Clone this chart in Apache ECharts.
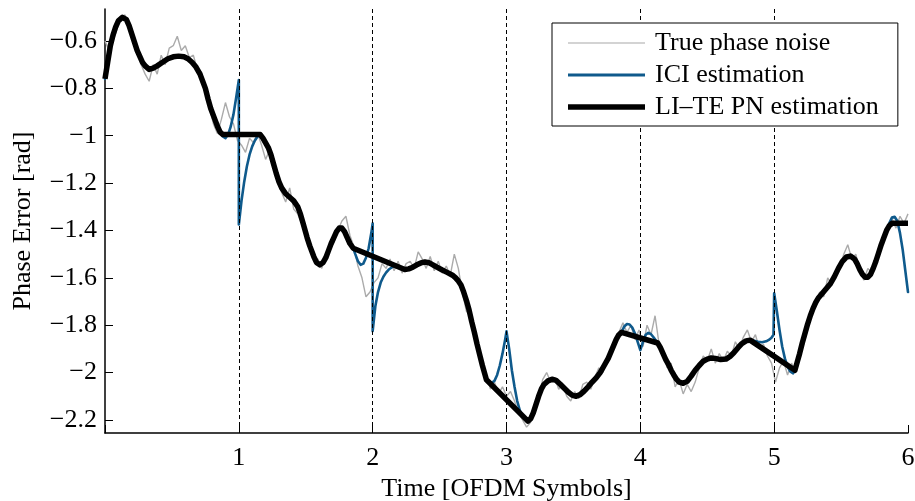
<!DOCTYPE html>
<html><head><meta charset="utf-8">
<script src="https://cdn.jsdelivr.net/npm/echarts@6/dist/echarts.min.js"></script>
<style>html,body{margin:0;padding:0;background:#fff}#c{width:915px;height:501px}</style>
</head><body><div id="c"></div>
<script>
// ---- data ----
const xTicks = [0, 1, 2, 3, 4, 5, 6];
const yTicks = [-2.2, -2.0, -1.8, -1.6, -1.4, -1.2, -1.0, -0.8, -0.6];
const symbolBoundaries = [1, 2, 3, 4, 5];
const seriesNames = ['True phase noise', 'ICI estimation', 'LI\u2013TE PN estimation'];

// true phase noise, sampled every 0.03 OFDM symbols from t = 0
const trueStep = 0.03;
const truePhaseNoise = [
 -0.60,-0.64,-0.60,-0.55,-0.50,-0.49,-0.55,-0.57,-0.62,-0.70,
 -0.74,-0.77,-0.70,-0.74,-0.66,-0.70,-0.63,-0.62,-0.58,-0.64,
 -0.62,-0.67,-0.66,-0.72,-0.73,-0.81,-0.88,-0.95,-0.99,-0.93,
 -0.86,-0.92,-0.95,-1.02,-1.04,-1.07,-1.01,-1.03,-0.99,-1.04,
 -1.10,-1.06,-1.13,-1.19,-1.24,-1.28,-1.22,-1.31,-1.33,-1.37,
 -1.42,-1.48,-1.52,-1.52,-1.56,-1.50,-1.48,-1.45,-1.40,-1.36,
 -1.34,-1.42,-1.47,-1.55,-1.60,-1.68,-1.66,-1.62,-1.60,-1.54,
 -1.56,-1.52,-1.57,-1.53,-1.58,-1.54,-1.53,-1.56,-1.49,-1.52,
 -1.56,-1.51,-1.57,-1.53,-1.58,-1.55,-1.59,-1.50,-1.56,-1.66,
 -1.74,-1.76,-1.82,-1.88,-1.96,-2.01,-2.07,-2.04,-2.09,-2.06,
 -2.10,-2.08,-2.12,-2.17,-2.20,-2.23,-2.21,-2.14,-2.12,-2.03,
 -2.00,-2.04,-2.02,-2.07,-2.05,-2.10,-2.12,-2.08,-2.11,-2.05,
 -2.04,-2.07,-2.02,-1.98,-2.00,-1.94,-1.90,-1.86,-1.83,-1.79,
 -1.83,-1.80,-1.86,-1.82,-1.89,-1.80,-1.84,-1.76,-1.88,-1.91,
 -1.98,-1.96,-2.06,-2.03,-2.09,-2.05,-2.08,-2.04,-1.98,-1.93,
 -1.95,-1.90,-1.96,-1.92,-1.95,-1.91,-1.93,-1.87,-1.90,-1.85,
 -1.82,-1.87,-1.84,-1.90,-1.88,-1.93,-1.96,-2.04,-1.98,-1.95,
 -2.01,-1.96,-2.00,-1.94,-1.88,-1.82,-1.73,-1.71,-1.66,-1.68,
 -1.60,-1.63,-1.57,-1.56,-1.50,-1.46,-1.52,-1.50,-1.57,-1.61,
 -1.56,-1.58,-1.52,-1.50,-1.42,-1.40,-1.35,-1.39,-1.34,-1.37,
 -1.33
];

// LI-TE PN estimation: [time, phase]
const liteEstimate = [
 [0.00,-0.76],[0.02,-0.69],[0.04,-0.62],[0.06,-0.575],[0.08,-0.54],[0.10,-0.515],[0.13,-0.50],
 [0.16,-0.51],[0.18,-0.535],[0.20,-0.57],[0.22,-0.605],[0.24,-0.64],[0.26,-0.665],[0.28,-0.69],
 [0.30,-0.705],[0.33,-0.72],[0.36,-0.715],[0.39,-0.705],[0.43,-0.69],[0.47,-0.675],[0.51,-0.667],
 [0.55,-0.664],[0.59,-0.667],[0.62,-0.675],[0.65,-0.69],[0.68,-0.71],[0.71,-0.74],[0.73,-0.77],
 [0.75,-0.80],[0.77,-0.845],[0.79,-0.885],[0.82,-0.93],[0.84,-0.96],[0.86,-0.985],[0.88,-0.995],
 [1.16,-0.995],[1.18,-1.01],[1.20,-1.03],[1.22,-1.05],[1.24,-1.08],[1.26,-1.12],[1.28,-1.16],
 [1.30,-1.195],[1.32,-1.22],[1.35,-1.245],[1.38,-1.26],[1.41,-1.275],[1.44,-1.30],[1.46,-1.33],
 [1.48,-1.37],[1.51,-1.43],[1.53,-1.465],[1.56,-1.51],[1.58,-1.535],[1.605,-1.545],[1.63,-1.535],
 [1.65,-1.515],[1.67,-1.485],[1.69,-1.455],[1.71,-1.43],[1.73,-1.405],[1.75,-1.39],[1.77,-1.39],
 [1.79,-1.405],[1.81,-1.43],[1.83,-1.455],[1.855,-1.475],
 [2.24,-1.565],[2.27,-1.562],[2.30,-1.555],[2.33,-1.545],[2.36,-1.537],[2.39,-1.533],[2.42,-1.536],
 [2.45,-1.545],[2.48,-1.555],[2.52,-1.567],[2.56,-1.578],[2.60,-1.59],[2.62,-1.60],[2.64,-1.613],
 [2.66,-1.63],[2.68,-1.66],[2.70,-1.695],[2.72,-1.735],[2.74,-1.785],[2.76,-1.83],[2.78,-1.88],
 [2.80,-1.925],[2.82,-1.97],[2.84,-2.01],[2.85,-2.03],
 [3.16,-2.205],[3.18,-2.195],[3.20,-2.17],[3.22,-2.135],[3.24,-2.10],[3.26,-2.07],[3.28,-2.05],
 [3.31,-2.035],[3.34,-2.028],[3.37,-2.033],[3.40,-2.048],[3.43,-2.065],[3.46,-2.082],[3.49,-2.095],
 [3.52,-2.10],[3.55,-2.093],[3.58,-2.078],[3.61,-2.06],[3.64,-2.04],[3.67,-2.022],[3.70,-2.00],
 [3.73,-1.97],[3.76,-1.94],[3.79,-1.90],[3.82,-1.86],[3.84,-1.84],[3.86,-1.83],
 [4.13,-1.875],[4.15,-1.895],[4.17,-1.92],[4.19,-1.945],[4.21,-1.965],[4.23,-1.99],[4.25,-2.01],
 [4.27,-2.028],[4.29,-2.04],[4.32,-2.045],[4.35,-2.037],[4.38,-2.015],[4.41,-1.99],[4.44,-1.97],
 [4.47,-1.952],[4.50,-1.943],[4.53,-1.938],[4.56,-1.94],[4.60,-1.945],[4.64,-1.943],[4.67,-1.932],
 [4.70,-1.915],[4.73,-1.895],[4.76,-1.877],[4.79,-1.866],[4.82,-1.863],
 [5.155,-1.99],[5.17,-1.96],[5.19,-1.92],[5.21,-1.875],[5.23,-1.835],[5.25,-1.795],[5.27,-1.76],
 [5.29,-1.73],[5.31,-1.705],[5.33,-1.685],[5.36,-1.665],[5.39,-1.645],[5.42,-1.625],[5.45,-1.595],
 [5.48,-1.56],[5.51,-1.53],[5.54,-1.512],[5.57,-1.508],[5.60,-1.52],[5.62,-1.54],[5.64,-1.565],
 [5.66,-1.585],[5.68,-1.597],[5.70,-1.597],[5.72,-1.585],[5.74,-1.56],[5.76,-1.53],[5.78,-1.495],
 [5.80,-1.46],[5.82,-1.43],[5.84,-1.40],[5.86,-1.38],[5.88,-1.37],[6.00,-1.37]
];

// ICI estimation: [time, phase]
const iciEstimate = [
 [0.00,-0.76],[0.02,-0.69],[0.04,-0.62],[0.06,-0.575],[0.08,-0.54],[0.10,-0.515],[0.13,-0.50],
 [0.16,-0.51],[0.18,-0.535],[0.20,-0.57],[0.22,-0.605],[0.24,-0.64],[0.26,-0.665],[0.28,-0.69],
 [0.30,-0.705],[0.33,-0.72],[0.36,-0.715],[0.39,-0.705],[0.43,-0.69],[0.47,-0.675],[0.51,-0.667],
 [0.55,-0.664],[0.59,-0.667],[0.62,-0.675],[0.65,-0.69],[0.68,-0.71],[0.71,-0.74],[0.73,-0.77],
 [0.75,-0.80],[0.77,-0.845],[0.79,-0.885],[0.82,-0.93],[0.84,-0.96],[0.86,-0.985],
 [0.88,-1.003],[0.90,-1.01],[0.92,-0.995],[0.94,-0.96],[0.96,-0.91],[0.98,-0.84],[1.00,-0.765],
 [1.00,-1.375],[1.02,-1.275],[1.04,-1.195],[1.06,-1.13],[1.08,-1.08],[1.10,-1.045],[1.12,-1.02],
 [1.14,-1.003],[1.16,-0.995],
 [1.18,-1.01],[1.20,-1.03],[1.22,-1.05],[1.24,-1.08],[1.26,-1.12],[1.28,-1.16],
 [1.30,-1.195],[1.32,-1.22],[1.35,-1.245],[1.38,-1.26],[1.41,-1.275],[1.44,-1.30],[1.46,-1.33],
 [1.48,-1.37],[1.51,-1.43],[1.53,-1.465],[1.56,-1.51],[1.58,-1.535],[1.605,-1.545],[1.63,-1.535],
 [1.65,-1.515],[1.67,-1.485],[1.69,-1.455],[1.71,-1.43],[1.73,-1.405],[1.75,-1.39],[1.77,-1.39],
 [1.79,-1.405],[1.81,-1.43],[1.83,-1.455],[1.855,-1.475],
 [1.87,-1.50],[1.89,-1.53],[1.91,-1.545],[1.93,-1.54],[1.95,-1.515],[1.97,-1.475],[1.99,-1.41],
 [2.00,-1.37],[2.00,-1.825],[2.02,-1.72],[2.04,-1.66],[2.06,-1.62],[2.08,-1.595],[2.10,-1.578],
 [2.12,-1.565],[2.15,-1.553],[2.17,-1.549],
 [2.24,-1.565],[2.27,-1.562],[2.30,-1.555],[2.33,-1.545],[2.36,-1.537],[2.39,-1.533],[2.42,-1.536],
 [2.45,-1.545],[2.48,-1.555],[2.52,-1.567],[2.56,-1.578],[2.60,-1.59],[2.62,-1.60],[2.64,-1.613],
 [2.66,-1.63],[2.68,-1.66],[2.70,-1.695],[2.72,-1.735],[2.74,-1.785],[2.76,-1.83],[2.78,-1.88],
 [2.80,-1.925],[2.82,-1.97],[2.84,-2.01],[2.85,-2.03],
 [2.87,-2.04],[2.89,-2.043],[2.91,-2.035],[2.93,-2.01],[2.95,-1.97],[2.97,-1.92],[2.99,-1.86],
 [3.00,-1.826],[3.02,-1.90],[3.04,-1.99],[3.06,-2.06],[3.08,-2.12],[3.10,-2.16],[3.12,-2.183],
 [3.16,-2.205],[3.18,-2.195],[3.20,-2.17],[3.22,-2.135],[3.24,-2.10],[3.26,-2.07],[3.28,-2.05],
 [3.31,-2.035],[3.34,-2.028],[3.37,-2.033],[3.40,-2.048],[3.43,-2.065],[3.46,-2.082],[3.49,-2.095],
 [3.52,-2.10],[3.55,-2.093],[3.58,-2.078],[3.61,-2.06],[3.64,-2.04],[3.67,-2.022],[3.70,-2.00],
 [3.73,-1.97],[3.76,-1.94],[3.79,-1.90],[3.82,-1.86],[3.84,-1.84],[3.86,-1.83],
 [3.88,-1.805],[3.90,-1.795],[3.92,-1.797],[3.94,-1.81],[3.96,-1.835],[3.98,-1.87],[4.00,-1.905],
 [4.02,-1.87],[4.04,-1.84],[4.06,-1.832],[4.08,-1.838],[4.10,-1.852],[4.12,-1.868],[4.14,-1.885],
 [4.17,-1.92],[4.19,-1.945],[4.21,-1.965],[4.23,-1.99],[4.25,-2.01],
 [4.27,-2.028],[4.29,-2.04],[4.32,-2.045],[4.35,-2.037],[4.38,-2.015],[4.41,-1.99],[4.44,-1.97],
 [4.47,-1.952],[4.50,-1.943],[4.53,-1.938],[4.56,-1.94],[4.60,-1.945],[4.64,-1.943],[4.67,-1.932],
 [4.70,-1.915],[4.73,-1.895],[4.76,-1.877],[4.79,-1.866],[4.82,-1.863],
 [4.85,-1.866],[4.88,-1.87],[4.91,-1.872],[4.94,-1.868],[4.96,-1.862],[4.98,-1.853],[4.995,-1.84],
 [5.00,-1.665],[5.02,-1.74],[5.04,-1.82],[5.06,-1.89],[5.08,-1.94],[5.10,-1.975],[5.12,-1.995],
 [5.14,-2.003],[5.16,-1.99],[5.18,-1.955],[5.20,-1.905],[5.21,-1.875],[5.23,-1.835],[5.25,-1.795],
 [5.27,-1.76],[5.29,-1.73],[5.31,-1.705],[5.33,-1.685],[5.36,-1.665],[5.39,-1.645],[5.42,-1.625],
 [5.45,-1.595],[5.48,-1.56],[5.51,-1.53],[5.54,-1.512],[5.57,-1.508],[5.60,-1.52],[5.62,-1.54],
 [5.64,-1.565],[5.66,-1.585],[5.68,-1.597],[5.70,-1.597],[5.72,-1.585],[5.74,-1.56],[5.76,-1.53],
 [5.78,-1.495],[5.80,-1.46],[5.82,-1.43],[5.84,-1.40],[5.86,-1.37],[5.88,-1.345],[5.90,-1.342],
 [5.92,-1.36],[5.94,-1.41],[5.96,-1.48],[5.98,-1.57],[6.00,-1.66]
];

// ---- build chart ----
const FONT = 'Liberation Serif, Times New Roman, serif';
const trueData = truePhaseNoise.map((v, i) => [+(i * trueStep).toFixed(3), v]);
const fmtNum = v => {
  const r = Math.round(v * 10) / 10;
  return String(r).replace('-', '\u2212');
};
const lineIcon = h => 'path://M0,0H77V' + h + 'H0Z';

const chart = echarts.init(document.getElementById('c'), null, {renderer: 'canvas'});
chart.setOption({
  animation: false,
  backgroundColor: '#fff',
  grid: {left: 105, right: 7, top: 9, bottom: 68, containLabel: false, outerBoundsMode: 'none'},
  legend: {
    orient: 'vertical', left: 552, top: 23,
    padding: [5, 19, 4, 16],
    itemWidth: 77, itemHeight: 14, itemGap: 2,
    backgroundColor: '#fff', borderColor: '#000', borderWidth: 1, borderRadius: 0,
    textStyle: {fontFamily: FONT, fontSize: 26, color: '#000', lineHeight: 30, padding: [0, 0, 0, 5]},
    itemStyle: {borderWidth: 0},
    lineStyle: {width: 0},
    data: [
      {name: seriesNames[0], icon: lineIcon(1.6), itemStyle: {color: '#c4c4c4'}},
      {name: seriesNames[1], icon: lineIcon(3), itemStyle: {color: '#0f5a8c'}},
      {name: seriesNames[2], icon: lineIcon(5.5), itemStyle: {color: '#000'}}
    ],
    selectedMode: false,
    z: 10
  },
  xAxis: {
    type: 'value', min: 0, max: 6, interval: 1,
    name: 'Time [OFDM Symbols]', nameLocation: 'middle', nameGap: 36,
    nameTextStyle: {fontFamily: FONT, fontSize: 26, color: '#000'},
    axisLine: {show: true, onZero: false, lineStyle: {color: '#000', width: 1.5}},
    axisTick: {show: true, inside: true, length: 8, lineStyle: {color: '#000', width: 1}},
    axisLabel: {fontFamily: FONT, fontSize: 26, color: '#000', margin: 12,
      formatter: v => (v === 0 ? '' : String(v))},
    splitLine: {show: false}
  },
  yAxis: {
    type: 'value', min: -2.255, max: -0.465,
    name: 'Phase Error [rad]', nameLocation: 'middle', nameGap: 69, nameRotate: 90,
    nameTextStyle: {fontFamily: FONT, fontSize: 26, color: '#000'},
    axisLine: {show: true, onZero: false, lineStyle: {color: '#000', width: 1.5}},
    axisTick: {show: true, inside: true, length: 8, customValues: yTicks, lineStyle: {color: '#000', width: 1}},
    axisLabel: {fontFamily: FONT, fontSize: 26, color: '#000', margin: 8, customValues: yTicks,
      formatter: v => fmtNum(v)},
    splitLine: {show: false}
  },
  series: [
    {
      name: seriesNames[0], type: 'line', data: trueData, symbol: 'none', smooth: false,
      lineStyle: {color: '#ababab', width: 1.4},
      itemStyle: {color: '#ababab'},
      z: 2,
      markLine: {
        silent: true, symbol: ['none', 'none'],
        label: {show: false},
        lineStyle: {color: '#000', width: 1, type: [4, 3]},
        data: symbolBoundaries.map(b => ({xAxis: b}))
      }
    },
    {
      name: seriesNames[1], type: 'line', data: iciEstimate, symbol: 'none', smooth: false,
      lineStyle: {color: '#0f5a8c', width: 2.6, join: 'round', cap: 'round'},
      itemStyle: {color: '#0f5a8c'},
      z: 3
    },
    {
      name: seriesNames[2], type: 'line', data: liteEstimate, symbol: 'none', smooth: false,
      lineStyle: {color: '#000', width: 5.5, join: 'round', cap: 'butt'},
      itemStyle: {color: '#000'},
      z: 4
    }
  ]
});
</script>
</body></html>
